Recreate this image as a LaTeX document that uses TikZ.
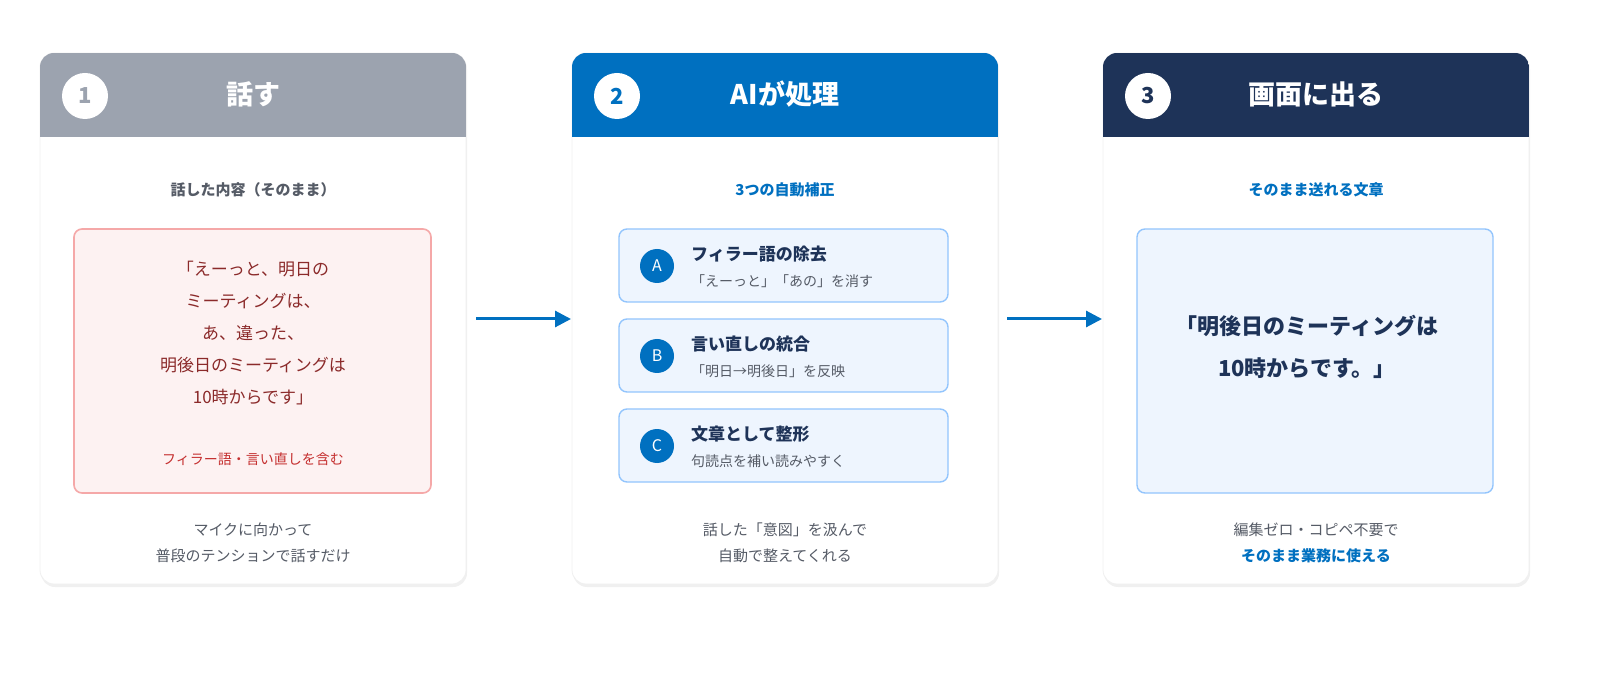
\documentclass[tikz,border=0pt]{standalone}
\usepackage{fontspec}
\setmainfont{Noto Sans CJK JP}
\usetikzlibrary{positioning,arrows.meta}
\definecolor{hdgray}{HTML}{9CA3AF}
\definecolor{hdblue}{HTML}{0070C0}
\definecolor{hdnavy}{HTML}{1E3358}
\definecolor{txgray}{HTML}{555B66}
\definecolor{txred}{HTML}{8B2A2A}
\definecolor{lbred}{HTML}{C53030}
\definecolor{pkfill}{HTML}{FDF2F2}
\definecolor{pkline}{HTML}{F5A8A8}
\definecolor{bfill}{HTML}{EEF5FE}
\definecolor{bline}{HTML}{93C5FD}
\tikzset{
  card/.style={draw=gray!12,fill=white,rounded corners=7pt},
  num/.style={circle,fill=white,minimum size=23pt,inner sep=0pt,font=\fontsize{11}{11}\selectfont\bfseries},
  head/.style={text=white,font=\fontsize{13.5}{14}\selectfont\bfseries},
  sub/.style={font=\fontsize{7.5}{9}\selectfont\bfseries},
  note/.style={text=txgray,font=\fontsize{7.5}{13}\selectfont,align=center},
  stepbox/.style={draw=bline,fill=bfill,line width=0.7pt,rounded corners=4pt},
  let/.style={circle,fill=hdblue,text=white,minimum size=17pt,inner sep=0pt,font=\fontsize{8}{8}\selectfont},
  flow/.style={-{Triangle[length=8pt,width=8pt]},hdblue,line width=1.5pt}
}
\begin{document}
\begin{tikzpicture}[x=0.5pt,y=-0.5pt]
\useasboundingbox (0,0) rectangle (1600,678);
% cards
\foreach \cx/\col [count=\i] in {40/hdgray,572/hdblue,1103/hdnavy}{
  \fill[black!6,rounded corners=7pt] (\cx+1,55) rectangle (\cx+427,587);
  \draw[card] (\cx,53) rectangle (\cx+426,584);
  \begin{scope}
    \clip[rounded corners=7pt] (\cx,53) rectangle (\cx+426,584);
    \fill[\col] (\cx,53) rectangle (\cx+426,137);
  \end{scope}
  \node[num,text=\col] (n\i) at (\cx+45,96) {\i};
}
\node[head] (h1) at (253,94) {話す};
\node[head] (h2) at (785,94) {AIが処理};
\node[head] (h3) at (1316,94) {画面に出る};
% card 1
\node[sub,text=txgray] (s1) at (253,190) {話した内容（そのまま）};
\draw[draw=pkline,fill=pkfill,line width=0.8pt,rounded corners=4pt] (74,229) rectangle (431,493);
\node[text=txred,align=center,font=\fontsize{8.5}{16}\selectfont] (q1) at (253,333)
  {「えーっと、明日の\\ミーティングは、\\あ、違った、\\明後日のミーティングは\\10時からです」};
\node[text=lbred,font=\fontsize{7}{8}\selectfont] (f1) at (253,459) {フィラー語・言い直しを含む};
\node[note] (b1) at (253,543) {マイクに向かって\\普段のテンションで話すだけ};
% card 2
\node[sub,text=hdblue] (s2) at (785,190) {3つの自動補正};
\foreach \y/\l/\t/\s in {229/A/フィラー語の除去/「えーっと」「あの」を消す,
                        319/B/言い直しの統合/「明日→明後日」を反映,
                        409/C/文章として整形/句読点を補い読みやすく}{
  \draw[stepbox] (619,\y) rectangle (948,\y+73);
  \node[let] (l\l) at (657,\y+37) {\l};
  \node[anchor=west,text=hdnavy,font=\fontsize{8.5}{9}\selectfont\bfseries] (t\l) at (684,\y+25) {\t};
  \node[anchor=west,text=txgray,font=\fontsize{7}{8}\selectfont] (d\l) at (684,\y+52) {\s};
}
\node[note] (b2) at (785,543) {話した「意図」を汲んで\\自動で整えてくれる};
% card 3
\node[sub,text=hdblue] (s3) at (1316,190) {そのまま送れる文章};
\draw[stepbox] (1137,229) rectangle (1493,493);
\node[text=hdnavy,align=center,font=\fontsize{11}{21}\selectfont\bfseries] (q3) at (1307,347)
  {「明後日のミーティングは\\10時からです。」};
\node[note] (b3) at (1316,530) {編集ゼロ・コピペ不要で};
\node[text=hdblue,font=\fontsize{7.5}{9}\selectfont\bfseries] (b3b) at (1316,556) {そのまま業務に使える};
% arrows
\coordinate (a1) at (476,319); \coordinate (a2) at (571,319);
\coordinate (a3) at (1007,319); \coordinate (a4) at (1102,319);
\draw[flow] (a1) -- (a2);
\draw[flow] (a3) -- (a4);
\end{tikzpicture}
\end{document}
